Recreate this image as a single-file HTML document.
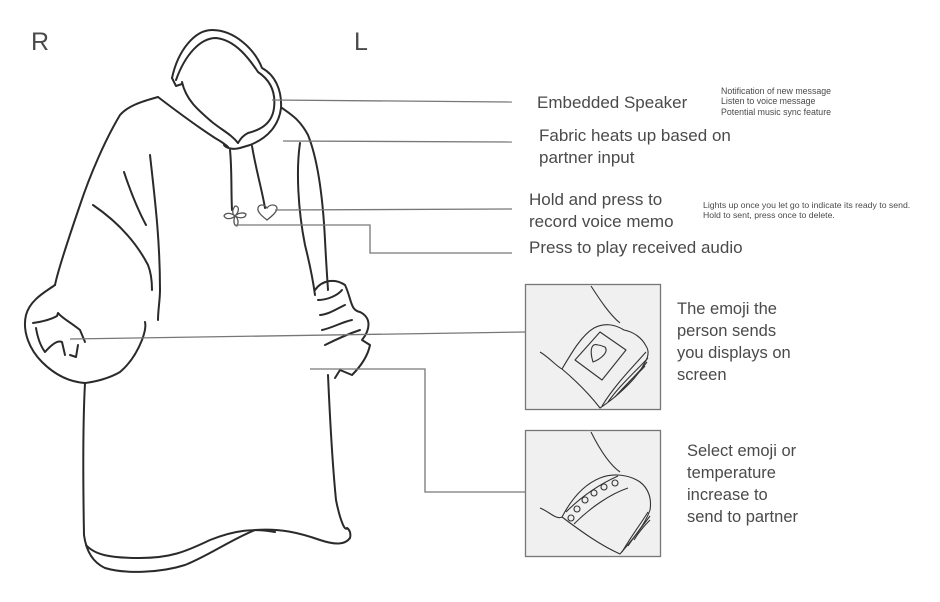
<!DOCTYPE html>
<html><head><meta charset="utf-8"><style>
html,body{margin:0;padding:0;background:#fff;width:940px;height:602px;overflow:hidden}
svg{display:block}
text{font-family:"Liberation Sans",Arial,sans-serif;fill:#4a4a4a}
</style></head><body>
<svg width="940" height="602" viewBox="0 0 940 602">
<g fill="none" stroke="#2a2a2a" stroke-width="2" stroke-linecap="round" stroke-linejoin="round">
<path d="M172,78 C178,50 195,30 212,30 C235,30 255,50 262,68 C275,75 282,90 281,108 C279,125 268,138 250,145 L240,148 C232,150 226,148 224,145"/>
<path d="M176,80 C185,55 200,38 216,38 C236,40 250,60 258,72 C270,80 276,92 274,108 C272,124 260,130 248,133 C242,136 240,140 238,143"/>
<path d="M182,82 C186,100 198,110 212,122 C222,130 232,135 238,143"/>
<path d="M158,97 C175,110 195,125 215,138 C222,142 226,145 228,147"/>
<path d="M172,78 L176,86 L182,84"/>
<path d="M230,150 C232,170 231,190 232,210"/>
<path d="M252,146 C256,170 262,190 265,208"/>
<path d="M158,97 C140,102 128,106 120,115 C105,140 90,175 80,205 C68,240 58,270 55,285"/>
<path d="M150,155 C155,200 160,240 160,290 C160,300 158,310 158,320"/>
<path d="M124,172 C130,190 138,210 146,225"/>
<path d="M93,205 C115,220 135,240 148,265 C152,275 152,285 152,290"/>
<path d="M55,285 C45,292 30,300 26,315 C22,332 30,350 42,362 C55,375 70,382 85,383 C95,382 110,378 120,372 C132,362 138,350 142,340 C145,332 146,326 145,322"/>
<path d="M33,323 C40,322 50,320 57,316 L58,313 C62,318 70,322 80,330 L85,342 M36,328 C38,340 42,348 45,352 C52,344 58,340 62,342 L65,355 M70,355 L76,357 L78,345"/>
<path d="M85,383 C83,420 83,480 84,535 C86,550 92,562 105,568 C125,574 160,573 185,565 C210,555 230,540 255,530 C280,528 300,533 320,540 C335,545 345,545 350,538 C351,534 350,530 347,528"/>
<path d="M86,545 C95,555 110,558 140,558 C170,558 185,552 210,540 C235,530 255,528 275,532"/>
<path d="M282,108 C292,115 300,120 308,135 C318,160 323,200 325,240 C326,260 327,275 328,290"/>
<path d="M300,143 C296,170 298,210 305,245 C310,265 313,280 315,295"/>
<path d="M328,375 C330,420 333,470 336,500 C340,520 345,532 347,528"/>
<path d="M315,290 C322,280 335,278 345,285 C352,300 350,310 360,312 C372,318 370,330 362,340 L370,345 C368,355 362,365 352,375 L340,370 L335,378"/>
<path d="M318,300 C328,300 338,295 342,290 M320,315 C330,314 338,308 345,305 M322,330 C332,328 342,322 352,320 M325,345 C335,340 345,335 360,330"/>
</g>
<g fill="none" stroke="#555" stroke-width="1.3">
<path d="M267,220 C262,216 257,212 258,208 C259,204 264,204 267,208 C270,204 276,204 277,208 C277,212 272,216 267,220 Z"/>
<path d="M235,206 C232,210 232,214 235,216 C230,212 225,213 224,216 C226,220 232,219 235,216 C233,221 234,226 237,226 C239,222 238,218 235,216 C240,219 246,218 246,214 C243,212 238,213 235,216 C239,212 240,206 235,206 Z"/>
</g>
<g fill="none" stroke="#777" stroke-width="1.3">
<path d="M272,100 L512,102"/>
<path d="M283,141 L512,142"/>
<path d="M275,210 L512,209"/>
<path d="M235,225 L370,225 L370,253 L512,253"/>
<path d="M70,339 L525,332"/>
<path d="M310,369 L425,369 L425,492 L525,492"/>
</g>
<rect x="525.5" y="284.5" width="135" height="125" fill="#f0f0f0" stroke="#777" stroke-width="1.3"/>
<rect x="525.5" y="430.5" width="135" height="126" fill="#f0f0f0" stroke="#777" stroke-width="1.3"/>
<g fill="none" stroke="#333" stroke-width="1.1" stroke-linejoin="round">
<path d="M591,286 C600,300 610,315 620,323"/>
<path d="M540,352 C550,358 556,366 562,369 C572,352 582,335 594,328 C605,322 616,325 624,330 C634,332 642,338 646,346 C650,352 648,358 644,364 C636,380 615,398 600,408 C590,395 575,380 562,369"/>
<path d="M575,360 L600,332 L626,350 L602,380 Z"/>
<path d="M598,345 C592,343 589,349 593,362 C601,359 609,352 605,347 C602,346 600,345 598,345 Z"/>
<path d="M602,406 C615,385 630,370 646,352 M608,402 C620,385 635,372 648,358 M615,397 C626,384 638,374 647,362 M622,390 C632,378 640,372 645,366"/>
<path d="M591,432 C600,450 610,465 620,472"/>
<path d="M540,508 C550,512 556,520 562,517 C572,498 585,484 600,478 C612,473 628,474 640,482 C648,488 652,498 650,510 C645,525 632,540 620,554 C600,545 582,532 562,517"/>
<path d="M566,512 C582,496 600,484 618,476 M574,524 C590,508 610,494 628,488"/>
<circle cx="571" cy="518" r="3"/><circle cx="577" cy="509" r="3"/><circle cx="585" cy="500" r="3"/><circle cx="594" cy="493" r="3"/><circle cx="604" cy="487" r="3"/><circle cx="615" cy="483" r="3"/>
<path d="M622,552 C632,535 642,522 648,512 M628,546 C636,534 644,524 650,516 M634,540 C640,530 646,524 650,520"/>
</g>
<text x="31" y="50" font-size="25">R</text>
<text x="354" y="50" font-size="25">L</text>
<text x="537" y="108" font-size="17">Embedded Speaker</text>
<text x="721" y="94" font-size="8.8">Notification of new message</text>
<text x="721" y="104" font-size="8.8">Listen to voice message</text>
<text x="721" y="115" font-size="8.8">Potential music sync feature</text>
<text x="539" y="141" font-size="17">Fabric heats up based on</text>
<text x="539" y="163" font-size="17">partner input</text>
<text x="529" y="205" font-size="17">Hold and press to</text>
<text x="529" y="227" font-size="17">record voice memo</text>
<text x="703" y="208" font-size="8.7">Lights up once you let go to indicate its ready to send.</text>
<text x="703" y="218" font-size="8.7">Hold to sent, press once to delete.</text>
<text x="529" y="253" font-size="17">Press to play received audio</text>
<text x="677" y="314" font-size="16.5">The emoji the</text>
<text x="677" y="336" font-size="16.5">person sends</text>
<text x="677" y="358" font-size="16.5">you displays on</text>
<text x="677" y="380" font-size="16.5">screen</text>
<text x="687" y="456" font-size="16.5">Select emoji or</text>
<text x="687" y="478" font-size="16.5">temperature</text>
<text x="687" y="500" font-size="16.5">increase to</text>
<text x="687" y="522" font-size="16.5">send to partner</text>
</svg>
</body></html>
